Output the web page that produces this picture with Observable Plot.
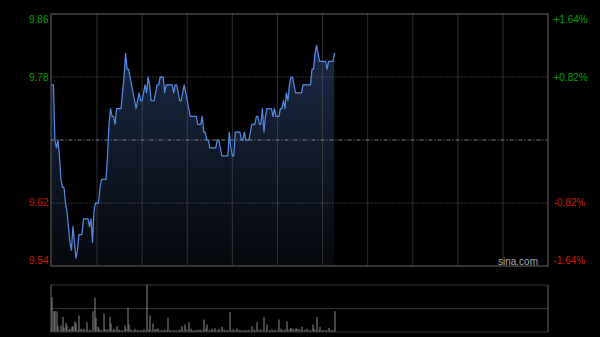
<!DOCTYPE html>
<html>
<head>
<meta charset="utf-8">
<script src="https://cdn.jsdelivr.net/npm/d3@7"></script>
<script src="https://cdn.jsdelivr.net/npm/@observablehq/plot@0.6"></script>
<style>
html, body { margin: 0; padding: 0; background: #000; }
#chart { width: 600px; height: 337px; background: #000; overflow: hidden; }
#chart svg { display: block; }
</style>
</head>
<body>
<div id="chart"></div>
<script>
// ---- data (one value per trading minute) ----
const sessionMinutes = 330;               // 09:30-12:00 + 13:00-16:00
const prevClose = 9.70;
const yTicks = [9.86, 9.78, 9.62, 9.54];
const leftLabels = ["9.86", "9.78", "9.62", "9.54"];
const rightLabels = ["+1.64%", "+0.82%", "-0.82%", "-1.64%"];
const gridMinutes = [30, 60, 90, 120, 150, 180, 210, 240, 270, 300];
const prices = [
  9.77, 9.77, 9.70, 9.69, 9.70, 9.68, 9.65, 9.64, 9.64, 9.62,
  9.61, 9.59, 9.57, 9.56, 9.59, 9.57, 9.55, 9.56, 9.58, 9.58,
  9.58, 9.60, 9.60, 9.60, 9.60, 9.59, 9.60, 9.57, 9.61, 9.62,
  9.62, 9.62, 9.64, 9.65, 9.65, 9.65, 9.65, 9.68, 9.72, 9.74,
  9.73, 9.73, 9.72, 9.74, 9.74, 9.74, 9.74, 9.76, 9.78, 9.81,
  9.79, 9.79, 9.78, 9.77, 9.76, 9.75, 9.74, 9.75, 9.76, 9.75,
  9.75, 9.76, 9.77, 9.76, 9.78, 9.77, 9.75, 9.75, 9.75, 9.76,
  9.77, 9.77, 9.78, 9.78, 9.78, 9.76, 9.77, 9.77, 9.77, 9.77,
  9.77, 9.76, 9.77, 9.77, 9.76, 9.75, 9.75, 9.76, 9.77, 9.76,
  9.75, 9.74, 9.73, 9.73, 9.73, 9.73, 9.73, 9.72, 9.72, 9.72,
  9.73, 9.71, 9.71, 9.70, 9.70, 9.69, 9.69, 9.69, 9.69, 9.69,
  9.70, 9.70, 9.69, 9.68, 9.68, 9.68, 9.68, 9.68, 9.71, 9.69,
  9.68, 9.68, 9.71, 9.71, 9.71, 9.71, 9.70, 9.70, 9.71, 9.70,
  9.70, 9.70, 9.71, 9.72, 9.72, 9.72, 9.73, 9.73, 9.72, 9.72,
  9.74, 9.71, 9.73, 9.74, 9.74, 9.74, 9.74, 9.73, 9.74, 9.73,
  9.73, 9.73, 9.74, 9.74, 9.75, 9.74, 9.76, 9.75, 9.77, 9.78,
  9.78, 9.77, 9.76, 9.76, 9.76, 9.76, 9.76, 9.77, 9.77, 9.77,
  9.77, 9.77, 9.77, 9.79, 9.79, 9.81, 9.82, 9.81, 9.80, 9.80,
  9.80, 9.80, 9.80, 9.79, 9.80, 9.80, 9.80, 9.80, 9.81
];
const volumes = [
  343, 203, 203, 200, 50, 10, 60, 147, 37, 87,
  60, 15, 27, 47, 53, 103, 80, 15, 160, 27,
  12, 27, 10, 93, 12, 15, 10, 203, 337, 137,
  47, 27, 10, 12, 180, 25, 10, 20, 147, 80,
  12, 27, 10, 53, 20, 10, 13, 10, 60, 27,
  237, 70, 20, 10, 12, 27, 10, 13, 10, 13,
  10, 20, 10, 470, 20, 160, 12, 80, 20, 27,
  33, 10, 12, 13, 10, 20, 10, 137, 13, 10,
  10, 12, 10, 10, 12, 20, 53, 12, 70, 20,
  10, 93, 27, 10, 13, 10, 12, 13, 20, 10,
  12, 120, 27, 70, 10, 13, 27, 10, 33, 10,
  13, 27, 10, 47, 20, 10, 13, 10, 193, 12,
  20, 13, 10, 27, 10, 13, 10, 10, 12, 13,
  10, 13, 10, 53, 20, 10, 93, 12, 20, 13,
  10, 147, 12, 70, 10, 13, 20, 10, 13, 10,
  12, 120, 27, 13, 10, 20, 103, 12, 27, 37,
  27, 12, 33, 27, 27, 12, 47, 10, 13, 27,
  10, 13, 10, 70, 27, 10, 147, 12, 47, 10,
  13, 10, 13, 10, 37, 10, 13, 10, 203
];
const volMax = 470;
const volGrid = [0, volMax / 2, volMax];

// ---- styling ----
const GREEN = "#00a000";
const RED = "#d01800";
const tickColors = [GREEN, GREEN, RED, RED];
const labelDy = [5.5, 0.5, 0, -5.5];
const FONT = "'Liberation Sans', Arial, Helvetica, sans-serif";

const rows = prices.map((price, minute) => ({minute, price}));
const volRows = volumes.map((volume, minute) => ({minute, volume}));

const gradientDefs = () => {
  const defs = d3.create("svg:defs");
  const g = defs.append("linearGradient").attr("id", "priceFill")
    .attr("x1", 0).attr("y1", 0).attr("x2", 0).attr("y2", 1);
  g.append("stop").attr("offset", "0%").attr("stop-color", "#1a2a46");
  g.append("stop").attr("offset", "100%").attr("stop-color", "#06080d");
  return defs.node();
};

const axisMarks = [];
yTicks.forEach((t, i) => {
  axisMarks.push(Plot.axisY([t], {
    anchor: "left", tickSize: 0, tickPadding: 2.5, label: null,
    tickFormat: () => leftLabels[i], fill: tickColors[i], dy: labelDy[i], fontSize: 10
  }));
  axisMarks.push(Plot.axisY([t], {
    anchor: "right", tickSize: 0, tickPadding: 5.5, label: null,
    tickFormat: () => rightLabels[i], fill: tickColors[i], dy: labelDy[i] + (i === 0 ? 0.5 : 0), fontSize: 10
  }));
});

const priceChart = Plot.plot({
  width: 600,
  height: 270,
  marginLeft: 50.5,
  marginRight: 52.5,
  marginTop: 13.5,
  marginBottom: 4.5,
  style: {background: "#000", fontFamily: FONT, fontSize: "10px", color: "#999"},
  x: {domain: [0, sessionMinutes], range: [51.4, 547.6], axis: null},
  y: {domain: [yTicks[3], yTicks[0]]},
  marks: [
    gradientDefs,
    Plot.areaY(rows, {x: "minute", y1: yTicks[3], y2: "price", fill: "url(#priceFill)"}),
    Plot.ruleX(gridMinutes, {stroke: "#5e5e5e", strokeDasharray: "1,1"}),
    Plot.ruleY([yTicks[1], yTicks[2]], {stroke: "#606060", strokeDasharray: "1,2"}),
    Plot.ruleY([prevClose], {stroke: "#808080", strokeDasharray: "4,2,1,2"}),
    Plot.lineY(rows, {x: "minute", y: "price", stroke: "#5289e4", strokeWidth: 1.25}),
    Plot.frame({stroke: "#666"}),
    ...axisMarks,
    Plot.text(["sina.com"], {frameAnchor: "bottom-right", dx: -10, dy: -1, fill: "#aaa", fontSize: 10})
  ]
});

const volumeChart = Plot.plot({
  width: 600,
  height: 67,
  marginLeft: 50.5,
  marginRight: 52.5,
  marginTop: 14.5,
  marginBottom: 5.5,
  style: {background: "#000", fontFamily: FONT, fontSize: "10px", color: "#999"},
  x: {domain: [0, sessionMinutes], range: [51.4, 547.6], axis: null, round: true},
  y: {domain: [0, volMax], axis: null},
  marks: [
    Plot.ruleY(volGrid, {stroke: "#666", strokeDasharray: "1,1"}),
    Plot.frame({stroke: "#666", strokeDasharray: "0,497,47,497,47"}),
    Plot.ruleX(volRows, {x: "minute", y1: 0, y2: "volume", stroke: "#8c8c8c", strokeWidth: 1, dx: 0.5})
  ]
});

const chart = document.getElementById("chart");
chart.append(priceChart);
chart.append(volumeChart);
</script>
</body>
</html>
